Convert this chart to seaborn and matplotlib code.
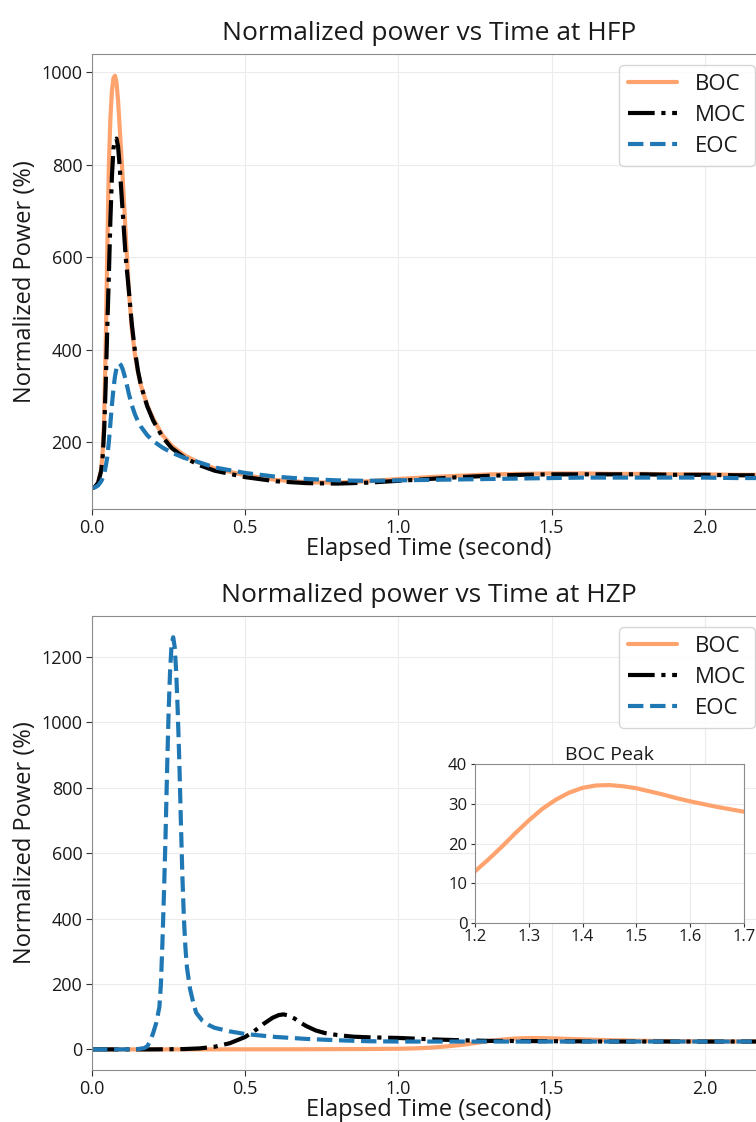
import numpy as np
import pandas as pd
import matplotlib
matplotlib.use("Agg")
import matplotlib.pyplot as plt
import seaborn as sns

# ---- HFP (top panel) ----
t_hfp = [0.0, 0.01, 0.02, 0.03, 0.035, 0.04, 0.045, 0.05, 0.055, 0.06, 0.065, 0.07,
         0.075, 0.08, 0.085, 0.09, 0.095, 0.1, 0.11, 0.12, 0.13, 0.14, 0.15, 0.16,
         0.18, 0.2, 0.23, 0.26, 0.3, 0.35, 0.4, 0.5, 0.6, 0.7, 0.8, 0.9,
         1.0, 1.1, 1.2, 1.3, 1.4, 1.5, 1.6, 1.7, 1.8, 1.9, 2.0, 2.1, 2.2]
boc_hfp = [100, 103, 112, 140, 180, 260, 420, 620, 800, 900, 960, 988,
           993, 978, 940, 885, 830, 775, 650, 530, 445, 390, 352, 322,
           280, 250, 215, 192, 172, 155, 143, 128, 118, 113, 112, 115,
           120, 124, 127, 130, 131, 132, 132, 131, 131, 130, 130, 129, 129]
moc_hfp = [100, 103, 112, 138, 170, 230, 330, 450, 560, 680, 775, 835,
           855, 857, 840, 800, 750, 700, 600, 530, 455, 398, 354, 322,
           278, 246, 211, 187, 167, 150, 138, 124, 115, 111, 110, 112,
           116, 120, 124, 127, 129, 130, 130, 130, 130, 129, 129, 128, 128]
eoc_hfp = [100, 102, 106, 115, 122, 132, 148, 168, 200, 240, 280, 315,
           342, 360, 368, 370, 366, 358, 335, 305, 280, 260, 245, 233,
           215, 202, 188, 177, 166, 156, 145, 133, 125, 120, 117, 116,
           117, 118, 119, 120, 121, 122, 123, 123, 123, 123, 123, 122, 122]

# ---- HZP (bottom panel) ----
t_boc_hzp = [0.0, 0.5, 0.7, 0.8, 0.9, 1.0, 1.05, 1.1, 1.15, 1.2, 1.225, 1.25,
             1.275, 1.3, 1.325, 1.35, 1.375, 1.4, 1.425, 1.45, 1.475, 1.5, 1.525, 1.55,
             1.575, 1.6, 1.625, 1.65, 1.675, 1.7, 1.75, 1.8, 1.9, 2.0, 2.1, 2.2]
boc_hzp = [0, 0.2, 0.5, 0.8, 1.2, 2, 3, 5, 8.5, 13, 16, 19.2,
           22.6, 25.8, 28.7, 31.0, 32.8, 34.0, 34.6, 34.7, 34.4, 33.9, 33.1, 32.3,
           31.4, 30.6, 29.9, 29.2, 28.6, 28.0, 27.0, 26.2, 25.2, 24.6, 24.3, 24.1]
t_moc_hzp = [0.0, 0.2, 0.3, 0.35, 0.4, 0.45, 0.5, 0.53, 0.56, 0.59, 0.61, 0.625,
             0.64, 0.66, 0.68, 0.7, 0.73, 0.76, 0.8, 0.85, 0.9, 1.0, 1.1, 1.2,
             1.3, 1.5, 1.7, 1.9, 2.2]
moc_hzp = [0, 0, 1, 3, 8, 19, 38, 56, 78, 97, 105, 107,
           104, 95, 82, 71, 58, 50, 44, 39, 37, 35, 31, 28,
           26, 25, 24, 24, 24]
t_eoc_hzp = [0.0, 0.1, 0.15, 0.17, 0.18, 0.19, 0.2, 0.21, 0.22, 0.225, 0.23, 0.235,
             0.24, 0.245, 0.25, 0.255, 0.26, 0.265, 0.27, 0.275, 0.28, 0.285, 0.29, 0.295,
             0.3, 0.305, 0.31, 0.32, 0.33, 0.34, 0.36, 0.38, 0.4, 0.45, 0.5, 0.6,
             0.7, 0.8, 0.9, 1.0, 1.2, 1.4, 1.6, 1.8, 2.0, 2.2]
eoc_hzp = [0, 0, 1, 4, 9, 25, 51, 82, 130, 200, 330, 480,
           650, 850, 1030, 1160, 1240, 1260, 1230, 1150, 1030, 880, 700, 530,
           400, 310, 250, 185, 145, 112, 88, 75, 66, 55, 47, 38,
           32, 28, 25, 24, 24, 24, 24, 24, 24, 24]

labels = ["BOC", "MOC", "EOC"]
colors = ["#ffa36e", "black", "#1f77b4"]
styles = ["-", "-.", "--"]

sns.set_style("whitegrid", {"grid.color": "#ececec", "axes.edgecolor": "#8c8c8c",
                            "xtick.bottom": True, "ytick.left": True,
                            "xtick.color": "#333333", "ytick.color": "#333333"})
plt.rcParams["font.family"] = ["Open Sans", "DejaVu Sans"]
plt.rcParams["text.color"] = "#1a1a1a"
plt.rcParams["axes.labelcolor"] = "#1a1a1a"

W, H = 756, 1122
fig = plt.figure(figsize=(W / 100, H / 100), dpi=100)
ax1 = fig.add_axes([92 / W, 1 - 509 / H, 674 / W, 455 / H])
ax2 = fig.add_axes([92 / W, 1 - 1070 / H, 674 / W, 454 / H])
axin = fig.add_axes([475 / W, 1 - 923 / H, 269 / W, 159 / H])

hfp = [(t_hfp, boc_hfp), (t_hfp, moc_hfp), (t_hfp, eoc_hfp)]
hzp = [(t_boc_hzp, boc_hzp), (t_moc_hzp, moc_hzp), (t_eoc_hzp, eoc_hzp)]

for ax, series, title, yt in [(ax1, hfp, "Normalized power vs Time at HFP", range(200, 1001, 200)),
                              (ax2, hzp, "Normalized power vs Time at HZP", range(0, 1201, 200))]:
    for (t, v), lab, c, ls in zip(series, labels, colors, styles):
        sns.lineplot(x=t, y=v, ax=ax, color=c, linestyle=ls, lw=3, label=lab,
                     estimator=None, legend=False)
    ax.set_xlim(0, 2.2)
    ax.set_xticks([0.0, 0.5, 1.0, 1.5, 2.0])
    ax.set_yticks(list(yt))
    ax.tick_params(labelsize=13, length=4, width=0.8, pad=3, labelcolor="#1a1a1a")
    ax.set_title(title, fontsize=19, pad=10)
    ax.set_xlabel("Elapsed Time (second)", fontsize=17, labelpad=0)
    ax.set_ylabel("Normalized Power (%)", fontsize=17, labelpad=3)
    ax.legend(loc="upper right", fontsize=16, handlelength=2.2,
              labelspacing=0.45, borderpad=0.4)

ax1.set_ylim(55, 1040)
ax2.set_ylim(-63, 1325)

# inset: BOC peak at HZP
sns.lineplot(x=t_boc_hzp, y=boc_hzp, ax=axin, color=colors[0], lw=3, estimator=None)
axin.set_xlim(1.2, 1.7)
axin.set_ylim(0, 40)
axin.set_xticks([1.2, 1.3, 1.4, 1.5, 1.6, 1.7])
axin.set_yticks([0, 10, 20, 30, 40])
axin.tick_params(labelsize=12, length=3, width=0.8, pad=1.5, labelcolor="#1a1a1a")
axin.tick_params(axis="y", pad=2.5)
axin.set_title("BOC Peak", fontsize=14, pad=3)

fig.savefig("out.png", dpi=100)
